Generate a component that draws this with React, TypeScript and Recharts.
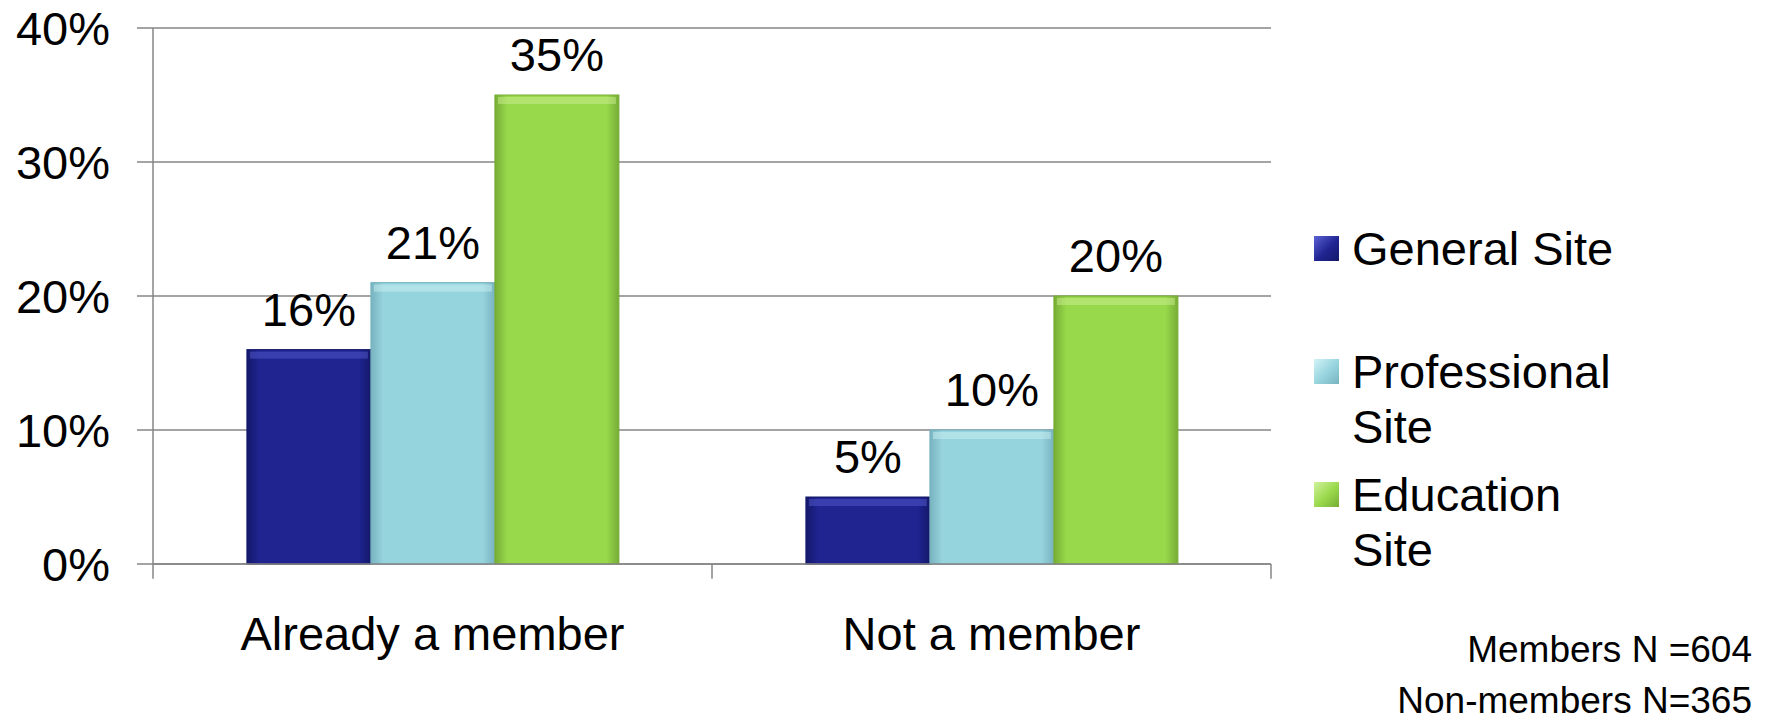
import React from 'react';
import { BarChart, Bar, XAxis, YAxis, CartesianGrid, Legend, LabelList, ReferenceLine } from 'recharts';

const categories = ['Already a member', 'Not a member'];
const generalSite = [16, 5];
const professionalSite = [21, 10];
const educationSite = [35, 20];
const yTicks = [0, 10, 20, 30, 40];
const seriesNames = ['General Site', 'Professional Site', 'Education Site'];
const footnotes = ['Members N =604', 'Non-members N=365'];

const data = categories.map((c, i) => ({
  category: c,
  general: generalSite[i],
  professional: professionalSite[i],
  education: educationSite[i],
}));

const FONT = "'Liberation Sans', Arial, sans-serif";
const GRID = '#868686';

const series = [
  { key: 'general', name: seriesNames[0], main: '#1f2491', edge: '#14186a', top: '#5c61d6' },
  { key: 'professional', name: seriesNames[1], main: '#95d3dd', edge: '#78b3bf', top: '#d2f3f7' },
  { key: 'education', name: seriesNames[2], main: '#98d84b', edge: '#76ad35', top: '#d2f29c' },
];

const makeShape = (s: any) => (props: any) => {
  const { x, y, width, height } = props;
  if (!height || height <= 0) return <g />;
  return (
    <g>
      <rect x={x} y={y} width={width} height={height} fill={`url(#grad-${s.key})`} stroke={s.edge} strokeWidth={1} />
      <rect x={x + 3} y={y + 2} width={Math.max(0, width - 6)} height={Math.min(7, height)} fill={s.top} opacity={0.45} />
    </g>
  );
};

const renderLegend = () => (
  <div style={{ fontFamily: FONT, fontSize: 47, color: '#000' }}>
    {series.map((s) => (
      <div key={s.key} style={{ position: 'relative', height: 123, width: 440 }}>
        <div
          style={{
            position: 'absolute',
            left: 0,
            top: 14.5,
            width: 25,
            height: 25,
            background: `linear-gradient(135deg, ${s.top}, ${s.main} 55%, ${s.edge})`,
          }}
        />
        <div style={{ position: 'absolute', left: 38, top: 0, width: 290, lineHeight: '55px', whiteSpace: 'normal' }}>
          {s.name}
        </div>
      </div>
    ))}
  </div>
);

export default function App() {
  return (
    <div style={{ position: 'absolute', left: 0, top: 0, width: 1775, height: 722, background: '#fff', fontFamily: FONT }}>
      <BarChart
        width={1775}
        height={722}
        data={data}
        margin={{ top: 28, right: 504, left: 0, bottom: 58 }}
        barGap={0}
        barCategoryGap="16.8%"
      >
        <defs>
          {series.map((s) => (
            <linearGradient key={s.key} id={`grad-${s.key}`} x1="0" y1="0" x2="1" y2="0">
              <stop offset="0%" stopColor={s.edge} />
              <stop offset="10%" stopColor={s.main} />
              <stop offset="90%" stopColor={s.main} />
              <stop offset="100%" stopColor={s.edge} />
            </linearGradient>
          ))}
        </defs>
        <CartesianGrid vertical={false} stroke={GRID} strokeWidth={1.5} />
        <XAxis
          dataKey="category"
          height={100}
          tickLine={false}
          tickSize={0}
          tickMargin={53}
          axisLine={{ stroke: GRID, strokeWidth: 1.5 }}
          tick={{ fontSize: 47, fill: '#000', fontFamily: FONT }}
          interval={0}
        />
        <YAxis
          width={153}
          domain={[0, 40]}
          ticks={yTicks}
          tickFormatter={(v: number) => `${v}%`}
          tickSize={16}
          tickMargin={27}
          axisLine={{ stroke: GRID, strokeWidth: 1.5 }}
          tickLine={{ stroke: GRID, strokeWidth: 1.5 }}
          tick={{ fontSize: 47, fill: '#000', fontFamily: FONT }}
          interval={0}
        />
        <ReferenceLine
          segment={[{ x: categories[0], y: 0 }, { x: categories[0], y: -1.1 }]}
          position="start"
          ifOverflow="visible"
          stroke={GRID}
          strokeWidth={1.5}
        />
        <ReferenceLine
          segment={[{ x: categories[1], y: 0 }, { x: categories[1], y: -1.1 }]}
          position="start"
          ifOverflow="visible"
          stroke={GRID}
          strokeWidth={1.5}
        />
        <ReferenceLine
          segment={[{ x: categories[1], y: 0 }, { x: categories[1], y: -1.1 }]}
          position="end"
          ifOverflow="visible"
          stroke={GRID}
          strokeWidth={1.5}
        />
        <Legend
          content={renderLegend}
          wrapperStyle={{ left: 1314, top: 221, width: 0, height: 0, overflow: 'visible' }}
        />
        {series.map((s) => (
          <Bar key={s.key} dataKey={s.key} name={s.name} fill={s.main} shape={makeShape(s)} isAnimationActive={false}>
            <LabelList
              dataKey={s.key}
              position="top"
              offset={24}
              formatter={(v: any) => `${v}%`}
              fill="#000"
              fontSize={47}
              fontFamily={FONT}
            />
          </Bar>
        ))}
      </BarChart>
      <svg
        width={1775}
        height={722}
        style={{ position: 'absolute', left: 0, top: 0, pointerEvents: 'none' }}
      >
        <text x={1752} y={662} textAnchor="end" fontSize={37} fontFamily={FONT} fill="#000">
          {footnotes[0]}
        </text>
        <text x={1752} y={713} textAnchor="end" fontSize={37} fontFamily={FONT} fill="#000">
          {footnotes[1]}
        </text>
      </svg>
    </div>
  );
}
